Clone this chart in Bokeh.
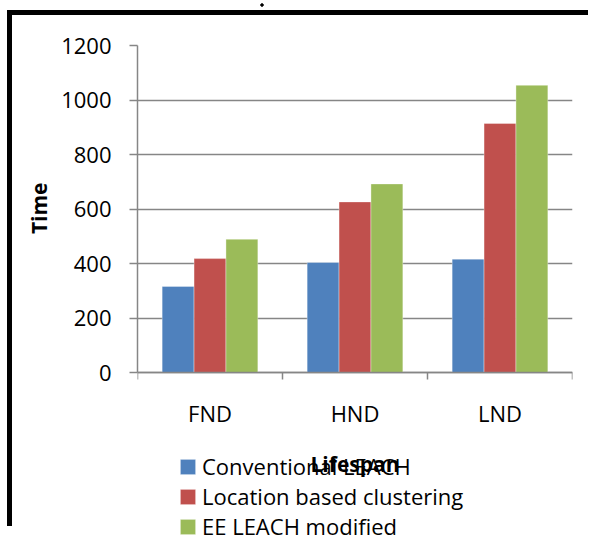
from bokeh.plotting import figure
from bokeh.models import Range1d, FixedTicker, ColumnDataSource, Legend, LegendItem, Title
from bokeh.transform import dodge
from bokeh.embed import file_html
from bokeh.resources import INLINE

categories = ["FND", "HND", "LND"]
conventional_leach = [316, 404, 416]
location_based = [418, 626, 914]
ee_leach_modified = [489, 692, 1054]
series_names = ["Conventional LEACH", "Location based clustering", "EE LEACH modified"]
y_ticks = [0, 200, 400, 600, 800, 1000, 1200]

colors = ["#4F81BD", "#C0504D", "#9BBB59"]
FONT = "Open Sans"

# frame geometry (canvas px)
W, H = 588, 526
TOP, ZERO = 30, 357
y_low = -1200 * (H - ZERO) / (ZERO - TOP)

xpos = [i + 0.5 for i in range(len(categories))]
source = ColumnDataSource(data=dict(
    x=xpos, conv=conventional_leach, loc=location_based, ee=ee_leach_modified))

p = figure(width=W, height=H, output_backend="svg", toolbar_location=None,
           x_range=Range1d(0, len(categories)), y_range=Range1d(y_low, 1200),
           min_border_left=125, min_border_right=28, min_border_top=TOP,
           min_border_bottom=0)
p.styles = {
    "padding-left": "12px",
    "padding-top": "15px",
    "background": "radial-gradient(circle, #000 1.4px, rgba(0,0,0,0) 2px) 259px 2px / 6px 6px no-repeat, "
                  "linear-gradient(#000,#000) 7px 10px / 5px 100% no-repeat, "
                  "linear-gradient(#000,#000) 7px 10px / 100% 5px no-repeat, #fff",
}
p.outline_line_color = None
p.background_fill_color = "white"
p.border_fill_color = "white"

bw = 0.22
renderers = []
for field, off, col in zip(["conv", "loc", "ee"], [-bw, 0, bw], colors):
    r = p.vbar(x=dodge("x", off), top=field, width=bw, bottom=0, source=source,
               fill_color=col, line_color="white", line_alpha=0.35, line_width=1)
    renderers.append(r)

# y axis
p.yaxis.bounds = (0, 1200)
p.yaxis.ticker = FixedTicker(ticks=y_ticks)
p.yaxis.axis_line_color = "#868686"
p.yaxis.axis_line_width = 1.5
p.yaxis.major_tick_line_color = "#868686"
p.yaxis.major_tick_line_width = 1.5
p.yaxis.major_tick_in = 0
p.yaxis.major_tick_out = 8
p.yaxis.minor_tick_line_color = None
p.yaxis.major_label_text_font = FONT
p.yaxis.major_label_text_font_size = "22px"
p.yaxis.major_label_text_color = "black"
p.yaxis.major_label_standoff = 18

# y axis title, placed beside the 0..1200 part of the axis
ytitle = Title(text="Time", align="right", offset=137, standoff=12,
               text_font=FONT, text_font_size="21px", text_font_style="bold",
               text_color="black")
p.add_layout(ytitle, "left")

# x axis, drawn at the zero line
p.xaxis.fixed_location = 0
p.xaxis.ticker = FixedTicker(ticks=xpos, minor_ticks=list(range(len(categories) + 1)))
p.xaxis.major_label_overrides = {x: c for x, c in zip(xpos, categories)}
p.xaxis.axis_line_color = "#868686"
p.xaxis.axis_line_width = 1.5
p.xaxis.major_tick_line_color = None
p.xaxis.major_tick_in = 0
p.xaxis.major_tick_out = 0
p.xaxis.minor_tick_line_color = "#868686"
p.xaxis.minor_tick_line_width = 1.5
p.xaxis.minor_tick_in = 0
p.xaxis.minor_tick_out = 7
p.xaxis.major_label_text_font = FONT
p.xaxis.major_label_text_font_size = "22px"
p.xaxis.major_label_text_color = "black"
p.xaxis.major_label_standoff = 18
p.xaxis.axis_label = "Lifespan"
p.xaxis.axis_label_text_font = FONT
p.xaxis.axis_label_text_font_size = "21px"
p.xaxis.axis_label_text_font_style = "bold"
p.xaxis.axis_label_text_color = "black"
p.xaxis.axis_label_standoff = 19

p.xgrid.grid_line_color = None
p.ygrid.ticker = FixedTicker(ticks=y_ticks)
p.ygrid.grid_line_color = "#868686"
p.ygrid.grid_line_width = 1.5

lg = Legend(items=[LegendItem(label=n, renderers=[r]) for n, r in zip(series_names, renderers)])
lg.location = (41, 0)
lg.orientation = "vertical"
lg.label_text_font = FONT
lg.label_text_font_size = "22px"
lg.label_text_color = "black"
lg.label_text_line_height = 1.0
lg.glyph_width = 19
lg.glyph_height = 19
lg.label_height = 19
lg.label_standoff = 5
lg.spacing = 0
lg.padding = 0
lg.margin = 0
lg.border_line_color = None
lg.background_fill_alpha = 0
p.add_layout(lg, "center")

open("out.html", "w").write(file_html(p, INLINE))
